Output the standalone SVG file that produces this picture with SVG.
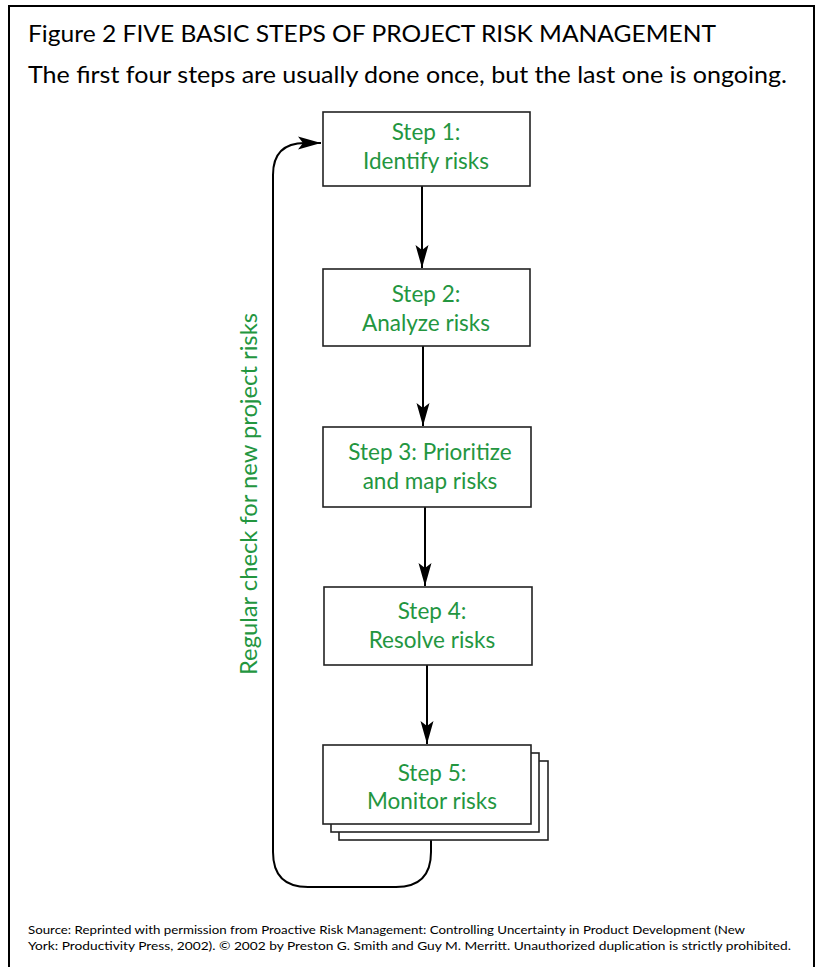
<svg xmlns="http://www.w3.org/2000/svg" width="816" height="967" viewBox="0 0 816 967">
<style>
.box{fill:#fff;stroke:#222;stroke-width:1.6}
.lbl{font-family:Lato,"Liberation Sans",sans-serif;font-size:22.5px;fill:#23963f;text-anchor:middle}
.hdr{font-family:Lato,"Liberation Sans",sans-serif;fill:#000}
.con{fill:none;stroke:#000;stroke-width:2}
</style>
<defs>
<marker id="ah" markerUnits="userSpaceOnUse" viewBox="-24 -8 26 16" markerWidth="26" markerHeight="16" refX="0" refY="0" orient="auto">
<path d="M0,0 L-23,-6.5 L-18,0 L-23,6.5 Z" fill="#000"/>
</marker>
</defs>
<rect x="0" y="0" width="816" height="967" fill="#fff"/>
<rect x="9" y="6" width="805" height="980" fill="none" stroke="#000" stroke-width="2"/>
<text class="hdr" x="28" y="42" font-size="23" textLength="688" lengthAdjust="spacingAndGlyphs">Figure 2 FIVE BASIC STEPS OF PROJECT RISK MANAGEMENT</text>
<text class="hdr" x="28" y="83" font-size="23" textLength="759" lengthAdjust="spacingAndGlyphs">The first four steps are usually done once, but the last one is ongoing.</text>

<g id="connectors">
<line class="con" x1="422" y1="186" x2="422" y2="268" marker-end="url(#ah)"/>
<line class="con" x1="423" y1="346" x2="423" y2="426" marker-end="url(#ah)"/>
<line class="con" x1="425" y1="507" x2="425" y2="586" marker-end="url(#ah)"/>
<line class="con" x1="427" y1="665" x2="427" y2="744" marker-end="url(#ah)"/>
<path class="con" d="M431,824 L431,852 Q431,887 396,887 L308,887 Q273,887 273,852 L273,175 Q273,143 305,143 L321,143" marker-end="url(#ah)"/>
<text class="lbl" transform="translate(257,494) rotate(-90)" textLength="362" lengthAdjust="spacingAndGlyphs">Regular check for new project risks</text>
</g>

<g id="step1">
<rect class="box" x="323" y="112" width="207" height="74"/>
<text class="lbl" x="426" y="140">Step 1:</text>
<text class="lbl" x="426" y="169">Identify risks</text>
</g>
<g id="step2">
<rect class="box" x="323" y="269" width="207" height="77"/>
<text class="lbl" x="426" y="302">Step 2:</text>
<text class="lbl" x="426" y="331">Analyze risks</text>
</g>
<g id="step3">
<rect class="box" x="323" y="427" width="208" height="80"/>
<text class="lbl" x="430" y="460">Step 3: Prioritize</text>
<text class="lbl" x="430" y="489">and map risks</text>
</g>
<g id="step4">
<rect class="box" x="324" y="587" width="208" height="78"/>
<text class="lbl" x="432" y="619">Step 4:</text>
<text class="lbl" x="432" y="648">Resolve risks</text>
</g>
<g id="step5">
<rect class="box" x="339" y="761" width="209" height="79"/>
<rect class="box" x="331" y="753" width="208" height="79"/>
<rect class="box" x="323" y="745" width="208" height="79"/>
<text class="lbl" x="432" y="781">Step 5:</text>
<text class="lbl" x="432" y="809">Monitor risks</text>
</g>

<text class="hdr" x="28" y="934" font-size="12" textLength="717" lengthAdjust="spacingAndGlyphs">Source: Reprinted with permission from Proactive Risk Management: Controlling Uncertainty in Product Development (New</text>
<text class="hdr" x="28" y="950" font-size="12" textLength="763" lengthAdjust="spacingAndGlyphs">York: Productivity Press, 2002). © 2002 by Preston G. Smith and Guy M. Merritt. Unauthorized duplication is strictly prohibited.</text>
</svg>
